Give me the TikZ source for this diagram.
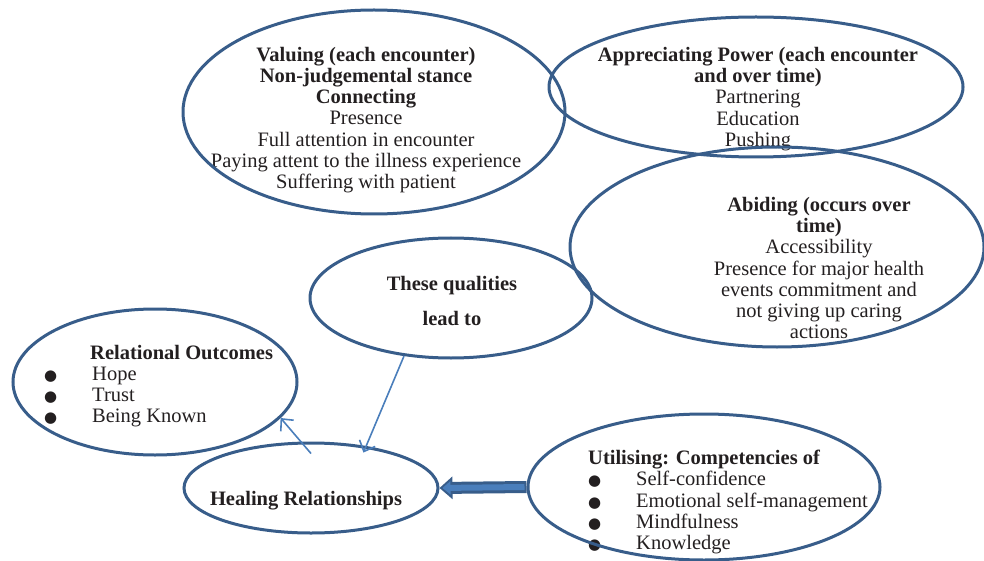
\documentclass[tikz,border=0pt]{standalone}
\usepackage{fontspec}
\setmainfont{Liberation Serif}
\newfontfamily\dejavu{DejaVu Sans}
\usetikzlibrary{shapes.geometric,arrows.meta}
\definecolor{rim}{RGB}{56,93,138}
\definecolor{link}{RGB}{74,126,187}
\definecolor{ink}{RGB}{35,31,32}
\newcommand{\dotitem}[2]{\makebox[#1][l]{\dejavu\fontsize{15}{21}\selectfont ●}#2}
\tikzset{
  bubble/.style={ellipse, draw=rim, line width=3pt, inner sep=0pt},
  words/.style={align=center, text=ink, inner sep=0pt, font=\fontsize{20.5}{21.2}\selectfont},
  thinarrow/.style={draw=link, line width=1.6pt, -{Straight Barb[length=9pt,width=17pt]}},
  fatrim/.style={draw=rim, line width=12pt, -{Triangle[length=13pt,width=22pt]}},
  fatcore/.style={draw=link, line width=6pt, shorten >=3pt, -{Triangle[length=8pt,width=13pt]}}
}
\begin{document}
\begin{tikzpicture}[x=1pt,y=-1pt]
\useasboundingbox (0,0) rectangle (984,561);
% texts first, the outlines go over them
\node[words] (valuingtext) at (366,120) {\textbf{Valuing (each encounter)}\\ \textbf{Non-judgemental stance}\\ \textbf{Connecting}\\
    Presence\\ Full attention in encounter\\ Paying attent to the illness experience\\ Suffering with patient};
\node[words] (powertext) at (758,99) {\textbf{Appreciating Power (each encounter}\\ \textbf{and over time)}\\ Partnering\\ Education\\ Pushing};
\node[words] (abidingtext) at (819,268) {\textbf{Abiding (occurs over}\\ \textbf{time)}\\ Accessibility\\ Presence for major health\\ events commitment and\\
    not giving up caring\\ actions};
\node[words] (qualitiestext) at (452,301) {\textbf{These qualities}\\[13pt] \textbf{lead to}};
\node[words, align=left, anchor=west] (outcomestext) at (44,386) {\hspace*{46pt}\textbf{Relational Outcomes}\\ \dotitem{48pt}{Hope}\\ \dotitem{48pt}{Trust}\\ \dotitem{48pt}{Being Known}};
\node[words] (healingtext) at (306,501) {\textbf{Healing Relationships}};
\node[words, align=left, anchor=west] (utilisingtext) at (588,502) {\textbf{Utilising: Competencies of}\\ \dotitem{48pt}{Self-confidence}\\ \dotitem{48pt}{Emotional self-management}\\
    \dotitem{48pt}{Mindfulness}\\ \dotitem{48pt}{Knowledge}};
% the ellipses
\node[bubble, minimum width=382pt, minimum height=204pt] (valuing) at (374,112) {};
\node[bubble, minimum width=414pt, minimum height=140pt] (power) at (756,87) {};
\node[bubble, minimum width=414pt, minimum height=200pt] (abiding) at (777,247) {};
\node[bubble, minimum width=282pt, minimum height=120pt] (qualities) at (451,298) {};
\node[bubble, minimum width=284pt, minimum height=146pt] (outcomes) at (155,382) {};
\node[bubble, minimum width=254pt, minimum height=90pt] (healing) at (311,488) {};
\node[bubble, minimum width=352pt, minimum height=146pt] (utilising) at (704,487) {};
% arrows
\draw[thinarrow] (qualities.231) -- ([yshift=-7pt]healing.39);
\draw[thinarrow] ([yshift=-12pt]healing.north) -- (outcomes.344);
\draw[fatrim] (utilising.west) -- (healing.east);
\draw[fatcore] ([xshift=-2pt]utilising.west) -- (healing.east);
\end{tikzpicture}
\end{document}
